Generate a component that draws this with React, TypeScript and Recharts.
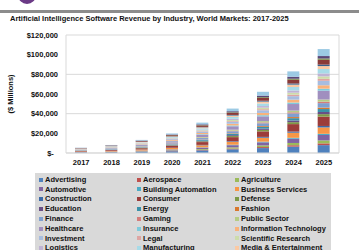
import { Bar, BarChart, CartesianGrid, XAxis, YAxis } from "recharts";

const years = ["2017", "2018", "2019", "2020", "2021", "2022", "2023", "2024", "2025"];

// revenue per industry, $ millions, 2017..2025
const advertising = [600, 850, 1300, 1800, 2700, 3800, 5000, 6500, 8000];
const aerospace = [60, 100, 180, 300, 480, 740, 1030, 1400, 1800];
const agriculture = [100, 170, 300, 500, 800, 1200, 1700, 2300, 3000];
const automotive = [200, 330, 580, 900, 1450, 2200, 3100, 4300, 5500];
const buildingAutomation = [40, 70, 120, 200, 320, 490, 690, 930, 1200];
const businessServices = [450, 650, 1000, 1400, 2100, 2950, 4000, 5200, 6500];
const construction = [50, 90, 150, 250, 400, 610, 850, 1150, 1500];
const consumer = [500, 760, 1250, 1850, 2850, 4150, 5650, 7600, 9500];
const defense = [150, 220, 340, 500, 760, 1100, 1500, 1980, 2500];
const education = [80, 130, 230, 370, 600, 900, 1260, 1700, 2200];
const energy = [120, 190, 330, 520, 830, 1250, 1750, 2350, 3000];
const fashion = [40, 70, 130, 220, 370, 580, 830, 1140, 1500];
const finance = [350, 500, 760, 1050, 1550, 2150, 2850, 3650, 4500];
const gaming = [60, 100, 170, 270, 430, 640, 890, 1180, 1500];
const publicSector = [100, 160, 260, 400, 630, 930, 1290, 1720, 2200];
const healthcare = [350, 550, 940, 1450, 2330, 3500, 4900, 6700, 9000];
const insurance = [90, 140, 230, 360, 560, 830, 1150, 1550, 2000];
const informationTechnology = [250, 360, 560, 800, 1200, 1700, 2300, 2900, 3500];
const investment = [300, 430, 660, 930, 1400, 1980, 2700, 3550, 4500];
const legal = [60, 100, 180, 300, 500, 770, 1100, 1520, 2000];
const scientificResearch = [150, 220, 350, 510, 780, 1120, 1530, 2000, 2500];
const logistics = [100, 170, 300, 480, 780, 1180, 1670, 2280, 3000];
const manufacturing = [200, 320, 540, 820, 1290, 1900, 2630, 3500, 4500];
const media = [200, 290, 450, 650, 980, 1400, 1900, 2430, 3000];
const oilGas = [70, 110, 180, 280, 440, 640, 880, 1170, 1500];
const retail = [300, 450, 700, 1000, 1500, 2150, 2950, 3900, 5000];
const sports = [40, 70, 120, 200, 320, 490, 690, 930, 1200];
const telecom = [150, 230, 360, 520, 790, 1140, 1560, 2020, 2500];
const transportation = [200, 350, 650, 1050, 1750, 2700, 3900, 5450, 7100];

const yTicks = [0, 20000, 40000, 60000, 80000, 100000, 120000];

const series = [
  { name: "Advertising", values: advertising, color: "#4f81bd" },
  { name: "Aerospace", values: aerospace, color: "#c0504d" },
  { name: "Agriculture", values: agriculture, color: "#9bbb59" },
  { name: "Automotive", values: automotive, color: "#8064a2" },
  { name: "Building Automation", values: buildingAutomation, color: "#4bacc6" },
  { name: "Business Services", values: businessServices, color: "#f79646" },
  { name: "Construction", values: construction, color: "#3c6aa8" },
  { name: "Consumer", values: consumer, color: "#9c3c3a" },
  { name: "Defense", values: defense, color: "#7d9a47" },
  { name: "Education", values: education, color: "#684f86" },
  { name: "Energy", values: energy, color: "#3a92aa" },
  { name: "Fashion", values: fashion, color: "#d8782e" },
  { name: "Finance", values: finance, color: "#7fa0d0" },
  { name: "Gaming", values: gaming, color: "#d47c7a" },
  { name: "Public Sector", values: publicSector, color: "#b5cc84" },
  { name: "Healthcare", values: healthcare, color: "#a08fbf" },
  { name: "Insurance", values: insurance, color: "#7ecbdc" },
  { name: "Information Technology", values: informationTechnology, color: "#f9b27a" },
  { name: "Investment", values: investment, color: "#a7bde0" },
  { name: "Legal", values: legal, color: "#dea5a3" },
  { name: "Scientific Research", values: scientificResearch, color: "#cddcaa" },
  { name: "Logistics", values: logistics, color: "#bfb3d4" },
  { name: "Manufacturing", values: manufacturing, color: "#a7dbe8" },
  { name: "Media & Entertainment", values: media, color: "#fbc9a3" },
  { name: "Oil & Gas", values: oilGas, color: "#35608f" },
  { name: "Retail", values: retail, color: "#8a3a38" },
  { name: "Sports", values: sports, color: "#6e8a3c" },
  { name: "Telecommunications", values: telecom, color: "#5a4778" },
  { name: "Transportation", values: transportation, color: "#9ccae4" },
];

const data = years.map((year, i) => {
  const row: Record<string, string | number> = { year };
  series.forEach((s) => {
    row[s.name] = s.values[i];
  });
  return row;
});

const font = "'Liberation Sans', Arial, sans-serif";

function money(v: number) {
  return v === 0 ? "$-\u00a0\u00a0" : "$" + v.toLocaleString("en-US");
}

export default function App() {
  return (
    <div
      style={{
        position: "absolute",
        left: 0,
        top: 0,
        width: 359,
        height: 250,
        overflow: "hidden",
        background: "#fff",
        fontFamily: font,
      }}
    >
      <div
        style={{
          position: "absolute",
          left: 18,
          top: -14,
          width: 18,
          height: 18,
          borderRadius: "50%",
          background: "#6b3a86",
        }}
      />
      <div style={{ position: "absolute", left: 0, top: 10, width: 359, height: 3, background: "#8c8c8c" }} />
      <div
        style={{
          position: "absolute",
          left: 10,
          top: 14,
          fontSize: 7.5,
          lineHeight: "9px",
          fontWeight: "bold",
          color: "#111",
          whiteSpace: "nowrap",
        }}
      >
        Artificial Intelligence Software Revenue by Industry, World Markets: 2017-2025
      </div>

      <div style={{ position: "absolute", left: 0, top: 0 }}>
        <BarChart
          width={359}
          height={170}
          data={data}
          margin={{ top: 35, right: 20, left: 0, bottom: 3 }}
          barSize={12}
        >
          <CartesianGrid
            stroke="#d9d9d9"
            verticalCoordinatesGenerator={({ offset }: any) => [offset.left + offset.width]}
          />
          <XAxis
            dataKey="year"
            height={14}
            tickLine={false}
            tickMargin={1}
            axisLine={{ stroke: "#d9d9d9" }}
            tick={{ fontSize: 7.5, fontWeight: "bold", fill: "#111", fontFamily: font }}
          />
          <YAxis
            width={66}
            domain={[0, 120000]}
            ticks={yTicks}
            tickFormatter={money}
            tickLine={false}
            axisLine={{ stroke: "#d9d9d9" }}
            tick={{ fontSize: 7.5, fontWeight: "bold", fill: "#111", fontFamily: font }}
            label={{
              value: "($ Millions)",
              angle: -90,
              position: "insideLeft",
              offset: 10,
              style: { fontSize: 7.5, fontWeight: "bold", fill: "#111", fontFamily: font, textAnchor: "middle" },
            }}
          />
          {series.map((s) => (
            <Bar key={s.name} dataKey={s.name} stackId="a" fill={s.color} isAnimationActive={false} />
          ))}
        </BarChart>
      </div>

      <div
        style={{
          position: "absolute",
          left: 35,
          top: 173,
          width: 296,
          height: 100,
          background: "#d9d9d9",
          boxSizing: "border-box",
          paddingTop: 1.8,
          display: "grid",
          gridTemplateColumns: "98px 98px 98px",
          gridAutoRows: "9.8px",
        }}
      >
        {series.map((s) => (
          <div
            key={s.name}
            style={{
              display: "flex",
              alignItems: "center",
              fontSize: 7.5,
              lineHeight: "9.8px",
              fontWeight: "bold",
              color: "#111",
              whiteSpace: "nowrap",
              paddingLeft: 4,
            }}
          >
            <span style={{ width: 4, height: 4, background: s.color, marginRight: 2, flexShrink: 0 }} />
            {s.name}
          </div>
        ))}
      </div>
    </div>
  );
}
